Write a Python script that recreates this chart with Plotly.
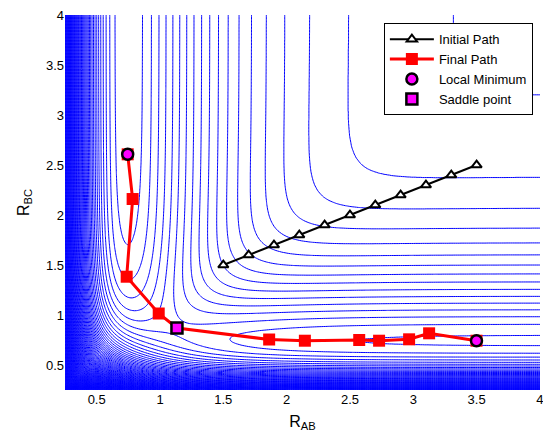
import numpy as np
import plotly.graph_objects as go

# LEPS surface parameters (A + BC collinear)
a_AB, b_BC, c_AC = 0.05, 0.30, 0.05
d_AB, d_BC, d_AC = 4.746, 4.746, 3.445
r0 = 0.742
alpha = 1.942

# contour levels
level_ref = -0.297
level_step = 0.2368

# paths
init_x = [1.5, 1.7, 1.9, 2.1, 2.3, 2.5, 2.7, 2.9, 3.1, 3.3, 3.5]
init_y = [1.5, 1.6, 1.7, 1.8, 1.9, 2.0, 2.1, 2.2, 2.3, 2.4, 2.5]
final_x = [0.745, 0.784, 0.737, 0.99, 1.134, 1.862, 2.144, 2.573, 2.73, 2.967, 3.125, 3.499]
final_y = [2.607, 2.16, 1.383, 1.015, 0.87, 0.755, 0.743, 0.75, 0.743, 0.757, 0.817, 0.743]
min_x = [0.745, 3.499]
min_y = [2.607, 0.743]
saddle_x = [1.134]
saddle_y = [0.87]

xticks = [0.5, 1, 1.5, 2, 2.5, 3, 3.5, 4]
yticks = [0.5, 1, 1.5, 2, 2.5, 3, 3.5, 4]


def Q(d, r):
    return d / 2.0 * (1.5 * np.exp(-2 * alpha * (r - r0)) - np.exp(-alpha * (r - r0)))


def J(d, r):
    return d / 4.0 * (np.exp(-2 * alpha * (r - r0)) - 6 * np.exp(-alpha * (r - r0)))


def leps(rab, rbc):
    rac = rab + rbc
    qa, qb, qc = Q(d_AB, rab), Q(d_BC, rbc), Q(d_AC, rac)
    ja = J(d_AB, rab) / (1 + a_AB)
    jb = J(d_BC, rbc) / (1 + b_BC)
    jc = J(d_AC, rac) / (1 + c_AC)
    s = ja**2 + jb**2 + jc**2 - ja * jb - jb * jc - ja * jc
    return qa / (1 + a_AB) + qb / (1 + b_BC) + qc / (1 + c_AC) - np.sqrt(np.maximum(s, 0))


gx = np.linspace(0.25, 4.0, 260)
gy = np.linspace(0.25, 4.0, 260)
GX, GY = np.meshgrid(gx, gy)
Z = leps(GX, GY)
zmin, zmax = float(Z.min()), float(Z.max())
start = level_ref - np.floor((level_ref - zmin) / level_step) * level_step
end = min(zmax, 45.0)

fig = go.Figure()
fig.add_trace(go.Contour(
    x=gx, y=gy, z=np.round(Z, 3),
    contours=dict(start=start, end=end, size=level_step, coloring="lines"),
    colorscale=[[0, "#0000ff"], [1, "#0000ff"]],
    line=dict(width=1),
    showscale=False, showlegend=False, hoverinfo="skip",
))
fig.add_trace(go.Scatter(
    x=init_x, y=init_y, mode="lines+markers", name="Initial Path",
    line=dict(color="black", width=2),
    marker=dict(symbol="triangle-up", size=9, color="white", line=dict(color="black", width=2)),
))
fig.add_trace(go.Scatter(
    x=final_x, y=final_y, mode="lines+markers", name="Final Path",
    line=dict(color="red", width=3),
    marker=dict(symbol="square", size=12, color="red"),
))
fig.add_trace(go.Scatter(
    x=min_x, y=min_y, mode="markers", name="Local Minimum",
    marker=dict(symbol="circle", size=11, color="#ff00ff", line=dict(color="black", width=2.5)),
))
fig.add_trace(go.Scatter(
    x=saddle_x, y=saddle_y, mode="markers", name="Saddle point",
    marker=dict(symbol="square", size=11, color="#ff00ff", line=dict(color="black", width=2.5)),
))

fig.update_layout(
    width=543, height=437,
    margin=dict(l=65, r=3, t=15, b=47),
    paper_bgcolor="white", plot_bgcolor="white",
    font=dict(family="Liberation Sans, Arial, sans-serif", size=13, color="black"),
    showlegend=True,
    legend=dict(x=0.985, y=0.978, xanchor="right", yanchor="top",
                bgcolor="white", bordercolor="black", borderwidth=1,
                font=dict(size=13), itemwidth=44, tracegroupgap=0),
    xaxis=dict(range=[0.25, 4.0005], tickvals=xticks, ticktext=[f"{v:g}" for v in xticks],
               showgrid=False, zeroline=False, showline=False, ticks="",
               ticklabeloverflow="allow", automargin=False,
               title=dict(text="R<sub>AB</sub>", standoff=9)),
    yaxis=dict(range=[0.25, 4.0005], tickvals=yticks, ticktext=[f"{v:g}" for v in yticks],
               showgrid=False, zeroline=False, showline=False, ticks="",
               ticklabeloverflow="allow", automargin=False,
               title=dict(text="R<sub>BC</sub>", standoff=12)),
)

fig.write_html("out.html")
